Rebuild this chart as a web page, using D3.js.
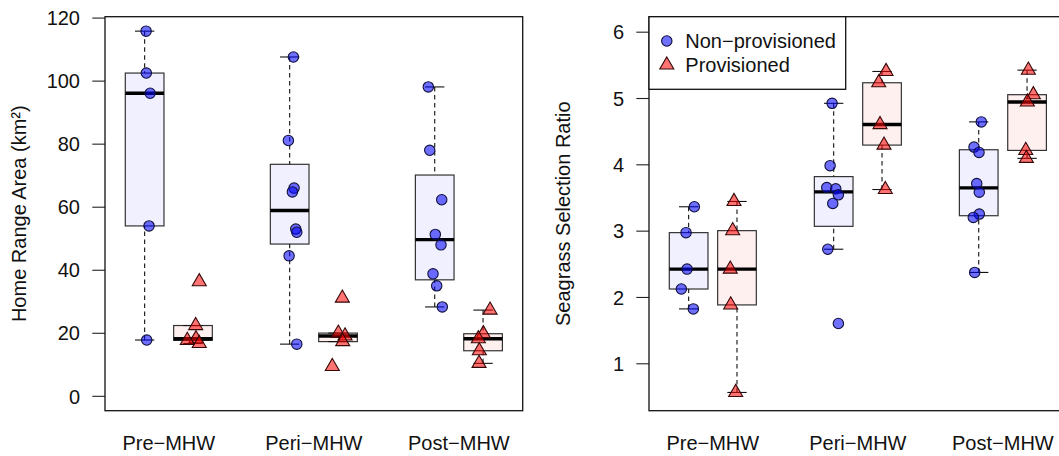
<!DOCTYPE html>
<html>
<head>
<meta charset="utf-8">
<script src="https://cdn.jsdelivr.net/npm/d3@7"></script>
<style>
html,body{margin:0;padding:0;background:#fff;overflow:hidden}
svg{display:block}
text{font-family:"Liberation Sans",Arial,Helvetica,sans-serif;fill:#111}
</style>
</head>
<body>
<svg id="chart" width="1059" height="456"></svg>
<script>
// ---------------- data ----------------
const categories = ["Pre\u2212MHW", "Peri\u2212MHW", "Post\u2212MHW"];
const seriesNames = ["Non\u2212provisioned", "Provisioned"];

// Home range area (km²) per period
const homeRangeNonProv = [
  [115.7, 102.4, 96.0, 53.9, 17.7],
  [107.5, 81.0, 65.9, 64.7, 52.9, 51.9, 44.4, 16.4],
  [98.0, 77.9, 62.2, 51.2, 47.9, 38.7, 34.9, 28.2]
];
const homeRangeProv = [
  [36.2, 22.3, 18.1, 17.6, 16.6],
  [31.0, 19.9, 19.0, 17.2, 9.3],
  [27.2, 19.7, 18.1, 14.3, 10.3]
];
// horizontal jitter of each point (in box-position units)
const homeRangeNonProvJitter = [
  [0.03, 0.035, 0.114, 0.091, 0.043],
  [0.077, -0.027, 0.091, 0.056, 0.126, 0.147, -0.012, 0.147],
  [-0.132, -0.103, 0.145, 0.012, 0.13, -0.035, 0.041, 0.157]
];
const homeRangeProvJitter = [
  [0.13, 0.056, 0.062, -0.118, 0.13],
  [0.089, 0.006, 0.145, 0.097, -0.118],
  [0.145, 0.006, -0.097, -0.077, -0.083]
];

// Seagrass selection ratio per period
const selectionNonProv = [
  [3.36, 2.97, 2.42, 2.12, 1.82],
  [4.92, 3.98, 3.65, 3.63, 3.54, 3.41, 2.72, 1.60],
  [4.64, 4.26, 4.18, 3.71, 3.58, 3.25, 3.20, 2.37]
];
const selectionProv = [
  [3.44, 3.00, 2.42, 1.88, 0.56],
  [5.40, 5.23, 4.60, 4.29, 3.62],
  [5.42, 5.05, 4.94, 4.21, 4.09]
];
const selectionNonProvJitter = [
  [0.118, -0.054, -0.033, -0.151, 0.097],
  [-0.033, -0.074, -0.143, 0.043, 0.097, -0.019, -0.122, 0.097],
  [0.054, -0.097, 0.006, -0.041, 0.012, 0.012, -0.112, -0.083]
];
const selectionProvJitter = [
  [-0.062, -0.089, -0.139, -0.13, -0.027],
  [0.083, -0.068, -0.041, 0.041, 0.068],
  [0.027, 0.13, 0.006, -0.027, -0.014]
];

const homeRangeTicks = [0, 20, 40, 60, 80, 100, 120];
const selectionTicks = [1, 2, 3, 4, 5, 6];
const homeRangeTitle = "Home Range Area (km\u00B2)";
const selectionTitle = "Seagrass Selection Ratio";

// ---------------- layout & style ----------------
const frameTop = 16.7, frameBottom = 410.7, frameWidth = 417.7;
const panelLeft = [105, 649];
const fontSize = 20;
const symR = 5.2;
const boxFill = ["#F0F0FF", "#FFF0F0"];
const ptFill = ["rgba(0,0,255,0.56)", "rgba(255,0,0,0.55)"];
const ptStroke = ["#10103c", "#360707"];

const svg = d3.select("#chart");
svg.append("rect").attr("width", 1059).attr("height", 456).attr("fill", "#fff");

// R style fivenum + boxplot.stats
function boxStats(vals) {
  const s = vals.slice().sort((a, b) => a - b);
  const n = s.length;
  const n4 = Math.floor((n + 3) / 2) / 2;
  const d = [1, n4, (n + 1) / 2, n + 1 - n4, n];
  const f = d.map(v => 0.5 * (s[Math.floor(v) - 1] + s[Math.ceil(v) - 1]));
  const iqr = f[3] - f[1];
  const inside = s.filter(v => v >= f[1] - 1.5 * iqr && v <= f[3] + 1.5 * iqr);
  return { lo: d3.min(inside), q1: f[1], med: f[2], q3: f[3], hi: d3.max(inside) };
}

function trianglePath(cx, cy) {
  const r = 1.555 * symR, xc = 1.347 * symR, yc = 0.778 * symR;
  return `M${cx},${cy - r}L${cx + xc},${cy + yc}L${cx - xc},${cy + yc}Z`;
}

function drawSymbol(g, s, cx, cy) {
  if (s === 0) {
    g.append("circle").attr("cx", cx).attr("cy", cy).attr("r", symR)
      .attr("fill", ptFill[0]).attr("stroke", ptStroke[0]).attr("stroke-width", 1.1);
  } else {
    g.append("path").attr("d", trianglePath(cx, cy))
      .attr("fill", ptFill[1]).attr("stroke", ptStroke[1]).attr("stroke-width", 1.1)
      .attr("stroke-linejoin", "miter");
  }
}

function drawPanel(p, yDomain, series, jitters, ticks, title, withLegend) {
  const g = svg.append("g").attr("transform", `translate(${panelLeft[p]},0)`);
  const x = d3.scaleLinear().domain([0.18, 8.82]).range([0, frameWidth]);
  const y = d3.scaleLinear().domain(yDomain).range([frameBottom, frameTop]);

  // boxes
  categories.forEach((c, i) => {
    series.forEach((ser, s) => {
      const pos = 3 * i + 1 + s;
      const st = boxStats(ser[i]);
      const bx = g.append("g");
      bx.append("rect")
        .attr("x", x(pos - 0.4)).attr("width", x(pos + 0.4) - x(pos - 0.4))
        .attr("y", y(st.q3)).attr("height", y(st.q1) - y(st.q3))
        .attr("fill", boxFill[s]).attr("stroke", "#333").attr("stroke-width", 1.2);
      bx.append("line")
        .attr("x1", x(pos - 0.4)).attr("x2", x(pos + 0.4))
        .attr("y1", y(st.med)).attr("y2", y(st.med))
        .attr("stroke", "#000").attr("stroke-width", 3.4);
      [[st.lo, st.q1], [st.hi, st.q3]].forEach(([w, h]) => {
        if (w !== h) {
          bx.append("line")
            .attr("x1", x(pos)).attr("x2", x(pos))
            .attr("y1", y(w)).attr("y2", y(h))
            .attr("stroke", "#111").attr("stroke-width", 1.1)
            .attr("stroke-dasharray", "4.5,3.5");
        }
        bx.append("line")
          .attr("x1", x(pos - 0.2)).attr("x2", x(pos + 0.2))
          .attr("y1", y(w)).attr("y2", y(w))
          .attr("stroke", "#111").attr("stroke-width", 1.1);
      });
    });
  });

  // points
  series.forEach((ser, s) => {
    categories.forEach((c, i) => {
      const pos = 3 * i + 1 + s;
      ser[i].forEach((v, k) => {
        drawSymbol(g, s, x(pos + jitters[s][i][k]), y(v));
      });
    });
  });

  // y axis
  const ax = g.append("g").call(
    d3.axisLeft(y).tickValues(ticks).tickSize(12.7).tickPadding(12.3)
      .tickFormat(d3.format("d")));
  ax.select(".domain").remove();
  ax.selectAll(".tick line").attr("stroke", "#222").attr("stroke-width", 1.1);
  ax.selectAll(".tick text")
    .attr("font-size", fontSize).attr("dy", "0.36em")
    .attr("font-family", '"Liberation Sans",Arial,sans-serif').attr("fill", "#111");

  // x labels
  categories.forEach((c, i) => {
    g.append("text").attr("x", x(3 * i + 1.5)).attr("y", 450)
      .attr("text-anchor", "middle").attr("font-size", fontSize).text(c);
  });

  // y title
  g.append("text")
    .attr("transform", `translate(-79,${(frameTop + frameBottom) / 2}) rotate(-90)`)
    .attr("text-anchor", "middle").attr("font-size", fontSize).text(title);

  // frame
  g.append("rect").attr("x", 0).attr("y", frameTop)
    .attr("width", frameWidth).attr("height", frameBottom - frameTop)
    .attr("fill", "none").attr("stroke", "#111").attr("stroke-width", 1.3);

  if (withLegend) {
    const lg = g.append("g");
    lg.append("rect").attr("x", 0).attr("y", frameTop)
      .attr("width", 196.7).attr("height", 72.6)
      .attr("fill", "#fff").attr("stroke", "#111").attr("stroke-width", 1.3);
    seriesNames.forEach((name, s) => {
      const cy = 41 + 24 * s;
      drawSymbol(lg, s, 17.8, cy);
      lg.append("text").attr("x", 36.3).attr("y", cy + 7)
        .attr("font-size", fontSize).text(name);
    });
  }
}

drawPanel(0, [-4.72, 120.28], [homeRangeNonProv, homeRangeProv],
  [homeRangeNonProvJitter, homeRangeProvJitter], homeRangeTicks, homeRangeTitle, false);
drawPanel(1, [0.285, 6.226], [selectionNonProv, selectionProv],
  [selectionNonProvJitter, selectionProvJitter], selectionTicks, selectionTitle, true);
</script>
</body>
</html>
